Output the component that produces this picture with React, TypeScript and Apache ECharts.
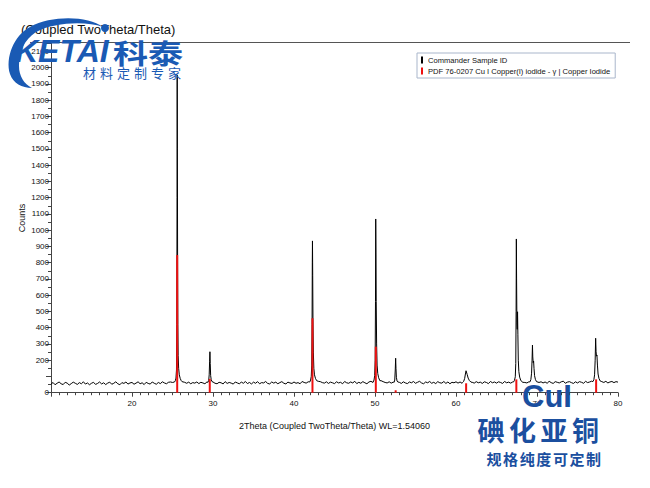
import React, { useEffect, useRef } from 'react';
import * as echarts from 'echarts';

// ---- scan background: counts from 10° to 80°, one value every 0.25° ----
const scanStart = 10;
const scanStep = 0.25;
const backgroundCounts = [
  52, 63, 49, 58, 66, 55, 50, 64, 59, 47, 56, 65, 58, 51, 62, 55, 67, 53, 60, 49,
  58, 64, 51, 57, 66, 54, 61, 50, 59, 65, 52, 58, 67, 55, 49, 62, 57, 66, 53, 60,
  63, 52, 59, 67, 55, 61, 50, 64, 57, 53, 66, 58, 52, 63, 56, 67, 60, 55, 64, 66,
  63, 66, 70, 70, 70, 69, 64, 58, 65, 55, 62, 59, 66, 56, 64, 60, 55, 66, 70, 70,
  66, 58, 55, 64, 61, 54, 68, 57, 63, 59, 53, 66, 60, 55, 65, 58, 69, 56, 63, 54,
  65, 58, 68, 55, 62, 60, 69, 57, 54, 66, 59, 65, 55, 62, 68, 58, 54, 65, 60, 57,
  66, 58, 62, 55, 69, 63, 59, 67, 70, 70, 70, 70, 70, 68, 62, 59, 67, 57, 65, 61,
  56, 67, 60, 64, 55, 69, 61, 58, 66, 60, 70, 56, 64, 58, 68, 61, 55, 66, 70, 63,
  70, 70, 70, 74, 68, 63, 60, 67, 59, 65, 70, 70, 64, 57, 67, 60, 56, 66, 61, 69,
  58, 64, 70, 60, 55, 66, 61, 69, 58, 64, 56, 68, 61, 59, 69, 57, 66, 55, 64, 61,
  67, 59, 66, 58, 70, 70, 70, 70, 64, 59, 68, 61, 65, 57, 67, 63, 56, 69, 61, 66,
  59, 67, 63, 57, 69, 61, 65, 59, 66, 70, 70, 70, 70, 64, 63, 60, 67, 70, 70, 70,
  70, 63, 67, 60, 66, 58, 70, 62, 57, 68, 64, 60, 67, 71, 58, 65, 68, 62, 57, 67,
  60, 68, 64, 58, 70, 62, 66, 71, 70, 70, 70, 70, 68, 63, 70, 60, 66, 69, 62, 68,
  65,
];

// ---- measured peak profiles [2θ, counts] ----
const peak25 = [[25.25, 66], [25.35, 74], [25.43, 90], [25.49, 140], [25.53, 420], [25.56, 1200], [25.58, 1955], [25.6, 1500], [25.63, 820], [25.66, 420], [25.7, 230], [25.76, 150], [25.84, 110], [25.95, 88], [26.08, 74], [26.18, 68]];
const peak29 = [[29.38, 64], [29.47, 76], [29.53, 110], [29.58, 190], [29.62, 252], [29.66, 180], [29.71, 105], [29.78, 80], [29.88, 68]];
const peak42 = [[41.95, 66], [42.05, 78], [42.13, 100], [42.19, 170], [42.23, 420], [42.26, 800], [42.28, 934], [42.31, 720], [42.34, 460], [42.39, 250], [42.45, 150], [42.53, 110], [42.65, 88], [42.8, 74]];
const peak50 = [[49.78, 66], [49.88, 78], [49.96, 105], [50.02, 200], [50.06, 560], [50.09, 1069], [50.12, 860], [50.15, 560], [50.2, 300], [50.26, 170], [50.34, 118], [50.45, 92], [50.6, 74]];
const peak52 = [[52.36, 64], [52.44, 78], [52.5, 140], [52.55, 212], [52.59, 150], [52.64, 95], [52.72, 72], [52.82, 66]];
const peak61 = [[60.8, 62], [60.95, 70], [61.07, 88], [61.16, 115], [61.24, 135], [61.3, 132], [61.38, 112], [61.5, 90], [61.65, 75], [61.85, 65]];
const peak67 = [[67.1, 66], [67.22, 76], [67.32, 98], [67.38, 180], [67.42, 500], [67.45, 946], [67.48, 700], [67.52, 430], [67.56, 390], [67.6, 498], [67.64, 360], [67.69, 200], [67.76, 130], [67.86, 96], [67.98, 78], [68.12, 68]];
const peak69 = [[69.12, 66], [69.24, 80], [69.33, 120], [69.39, 200], [69.44, 293], [69.48, 220], [69.53, 185], [69.58, 195], [69.63, 150], [69.7, 105], [69.8, 82], [69.94, 68]];
const peak77 = [[76.9, 68], [77.02, 80], [77.11, 110], [77.18, 200], [77.24, 335], [77.29, 255], [77.34, 225], [77.4, 232], [77.46, 170], [77.54, 115], [77.65, 88], [77.8, 72]];

// ---- PDF 76-0207 reference sticks [2θ, counts] ----
const referenceLines = [[25.58, 847], [29.6, 85], [42.28, 458], [50.1, 283], [52.55, 15], [61.25, 58], [67.45, 82], [77.3, 82]];

const sampleName = 'Commander Sample ID';
const pdfName = 'PDF 76-0207 Cu I Copper(I) iodide - γ | Copper Iodide';
const xTitle = '2Theta (Coupled TwoTheta/Theta) WL=1.54060';
const yTitle = 'Counts';
const topTitle = '(Coupled TwoTheta/Theta)';
const hiddenYLabels = [100];
const hiddenXLabels = [10];

const peaks = [peak25, peak29, peak42, peak50, peak52, peak61, peak67, peak69, peak77];
const bgPoints = backgroundCounts
  .map((c, i) => [scanStart + i * scanStep, c])
  .filter(([x]) => !peaks.some((p) => x >= p[0][0] && x <= p[p.length - 1][0]));
const scan = [...bgPoints, ...peaks.flat()].sort((a, b) => a[0] - b[0]);

const swooshPath =
  'M103,27 C88,16 52,15 30,27 C14,35 5,58 10,74 C13,83 22,88 32,88 C24,84 19,76 19,66 C19,52 24,40 36,32 C55,22 86,21 103,27 Z';
echarts.graphic.registerShape('swoosh', echarts.graphic.extendPath(swooshPath, {}));

const FONT = 'Liberation Sans';
const CJK = 'Noto Sans CJK SC';
const LOGO = '#1a5ab4';
const BLUE = '#1b4f9f';

function charRow(text: string, x0: number, pitch: number, y: number, fontSize: number, fill: string, weight: string) {
  return Array.from(text).map((ch, i) => ({
    type: 'text',
    x: x0 + i * pitch,
    y,
    z: 120,
    style: { text: ch, fontSize, fontFamily: CJK, fontWeight: weight, fill, align: 'center', verticalAlign: 'middle' },
  }));
}

export default function App() {
  const ref = useRef<HTMLDivElement>(null);
  useEffect(() => {
    const chart = echarts.init(ref.current!, undefined, { renderer: 'svg' });
    chart.setOption({
      animation: false,
      backgroundColor: '#fff',
      grid: { left: 51, right: 32, top: 43.3, bottom: 95.3, containLabel: false },
      legend: {
        orient: 'vertical',
        left: 417,
        top: 53,
        itemWidth: 2,
        itemHeight: 7,
        itemGap: 1,
        padding: [2, 5, 2, 4],
        borderColor: '#a9b6cb',
        borderWidth: 1,
        backgroundColor: '#fff',
        selectedMode: false,
        textStyle: { fontSize: 7.6, fontFamily: FONT, color: '#111', lineHeight: 10 },
        data: [
          { name: sampleName, icon: 'rect' },
          { name: pdfName, icon: 'rect' },
        ],
      },
      xAxis: {
        type: 'value',
        min: 10,
        max: 80,
        interval: 10,
        name: xTitle,
        nameLocation: 'middle',
        nameGap: 29,
        nameTextStyle: { fontSize: 9, fontFamily: FONT, color: '#111' },
        axisLine: { show: true, onZero: false, lineStyle: { color: '#444', width: 1 } },
        axisTick: { show: true, length: 4, lineStyle: { color: '#444' } },
        minorTick: { show: true, splitNumber: 10, length: 2.5, lineStyle: { color: '#444' } },
        axisLabel: {
          fontSize: 8,
          fontFamily: FONT,
          color: '#111',
          margin: 7,
          formatter: (v: number) => (hiddenXLabels.includes(v) ? '' : String(v)),
        },
        splitLine: { show: false },
      },
      yAxis: {
        type: 'value',
        min: 0,
        max: 2150,
        interval: 100,
        name: yTitle,
        nameLocation: 'middle',
        nameGap: 25,
        nameMoveOverlap: false,
        nameTextStyle: { fontSize: 9, fontFamily: FONT, color: '#111' },
        axisLine: { show: true, lineStyle: { color: '#444', width: 1 } },
        axisTick: { show: true, length: 5, lineStyle: { color: '#444' } },
        minorTick: { show: true, splitNumber: 2, length: 3, lineStyle: { color: '#444' } },
        axisLabel: {
          fontSize: 8,
          fontFamily: FONT,
          color: '#111',
          margin: 2,
          showMaxLabel: false,
          formatter: (v: number) => (hiddenYLabels.includes(v) || v % 100 !== 0 ? '' : String(v)),
        },
        splitLine: { show: false },
      },
      series: [
        {
          type: 'line',
          name: sampleName,
          data: scan,
          showSymbol: false,
          symbol: 'none',
          color: '#000',
          lineStyle: { width: 1, color: '#000' },
          z: 2,
          silent: true,
        },
        {
          type: 'bar',
          name: pdfName,
          data: referenceLines,
          barWidth: 2,
          color: '#ee1111',
          itemStyle: { color: '#ee1111' },
          z: 3,
          silent: true,
        },
      ],
      graphic: [
        { type: 'line', z: 100, shape: { x1: 30, y1: 42.5, x2: 630, y2: 42.5 }, style: { stroke: '#555', lineWidth: 1 } },
        {
          type: 'text', x: 21, y: 29, z: 101,
          style: { text: topTitle, fontSize: 13, fontFamily: FONT, fill: '#111', align: 'left', verticalAlign: 'middle' },
        },
        { type: 'swoosh', x: 0, y: 0, z: 110, style: { fill: LOGO } },
        { type: 'circle', z: 110, shape: { cx: 105, cy: 28, r: 4 }, style: { fill: LOGO } },
        {
          type: 'text', x: 15, y: 51, z: 111,
          style: { text: 'KETAI', fontSize: 32, fontWeight: 'bold', fontStyle: 'italic', fontFamily: FONT, fill: LOGO, align: 'left', verticalAlign: 'middle' },
        },
        {
          type: 'text', x: 113, y: 52, z: 111, scaleX: 1.3,
          style: { text: '科泰', fontSize: 27, fontWeight: 'bold', fontFamily: CJK, fill: LOGO, align: 'left', verticalAlign: 'middle' },
        },
        ...charRow('材料定制专家', 89.5, 17, 72, 13, LOGO, 'normal'),
        {
          type: 'text', x: 522, y: 396, z: 120,
          style: { text: 'CuI', fontSize: 31, fontWeight: 'bold', fontFamily: FONT, fill: BLUE, align: 'left', verticalAlign: 'middle' },
        },
        ...charRow('碘化亚铜', 491, 31.5, 429, 27, BLUE, 'bold'),
        ...charRow('规格纯度可定制', 494, 16.6, 458.5, 15, BLUE, 'bold'),
      ],
    });
    return () => chart.dispose();
  }, []);
  return <div ref={ref} style={{ position: 'absolute', left: 0, top: 0, width: 650, height: 488, background: '#fff' }} />;
}
